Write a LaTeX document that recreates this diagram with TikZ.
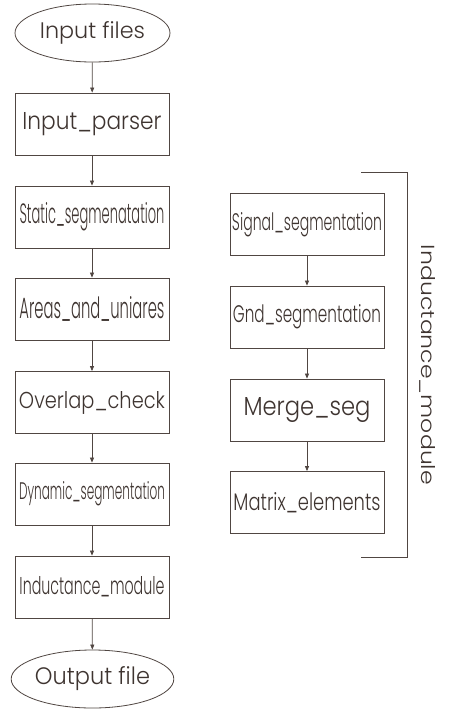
\documentclass[tikz,border=0pt]{standalone}
\usepackage{fontspec}
\setmainfont{Poppins}[UprightFont=* Light]
\usetikzlibrary{shapes.geometric,arrows.meta}
\definecolor{ink}{RGB}{62,52,48}
\definecolor{rule}{RGB}{80,70,66}
% stretch a label to a given width and ascender height
\newcommand\fitbox[3]{\resizebox{#1pt}{#2pt}{#3}}
\tikzset{
  proc/.style={draw=rule, line width=0.8pt, rectangle, minimum width=154pt,
    minimum height=62pt, inner sep=0pt, text=ink},
  term/.style={draw=rule, line width=0.8pt, ellipse, minimum width=155pt,
    minimum height=58pt, inner sep=0pt, text=ink},
  flow/.style={draw=rule, line width=0.7pt, -{Triangle[length=5pt,width=4pt]}},
  brace/.style={draw=rule, line width=0.8pt}
}
\begin{document}
\begin{tikzpicture}[x=1pt,y=-1pt]
\useasboundingbox (0,0) rectangle (448,710);
% main flow
\node[term] (in)   at (92.5,33)  {\fitbox{105}{17}{Input files}};
\node[proc] (pars) at (92,124)   {\fitbox{139}{17}{Input\_parser}};
\node[proc] (stat) at (92,217)   {\fitbox{145}{21}{Static\_segmenatation}};
\node[proc] (area) at (92,309)   {\fitbox{145}{22}{Areas\_and\_uniares}};
\node[proc] (ovl)  at (92,402.5) {\fitbox{146}{17}{Overlap\_check}};
\node[proc] (dyn)  at (92,494)   {\fitbox{146}{18}{Dynamic\_segmentation}};
\node[proc] (ind)  at (92,587)   {\fitbox{145}{18}{Inductance\_module}};
\node[term] (out)  at (92.5,679) {\fitbox{115}{18}{Output file}};
\draw[flow] (in) -- (pars);
\draw[flow] (pars) -- (stat);
\draw[flow] (stat) -- (area);
\draw[flow] (area) -- (ovl);
\draw[flow] (ovl) -- (dyn);
\draw[flow] (dyn) -- (ind);
\draw[flow] (ind) -- (out);
% inductance module detail
\node[proc] (sig) at (307,224.5) {\fitbox{150}{18}{Signal\_segmentation}};
\node[proc] (gnd) at (307,317)   {\fitbox{148}{18}{Gnd\_segmentation}};
\node[proc] (mrg) at (307,410)   {\fitbox{127}{18}{Merge\_seg}};
\node[proc] (mat) at (307,502.5) {\fitbox{147}{18}{Matrix\_elements}};
\draw[flow] (sig) -- (gnd);
\draw[flow] (gnd) -- (mrg);
\draw[flow] (mrg) -- (mat);
% bracket and its label
\coordinate (bt) at (361,172);
\coordinate (bb) at (361,557);
\draw[brace] (bt) -- (407,172) -- (407,557) -- (bb);
\node[text=ink, rotate=-90, inner sep=0pt] (lbl) at (428,365)
  {\fitbox{240}{14}{Inductance\_module}};
\end{tikzpicture}
\end{document}
